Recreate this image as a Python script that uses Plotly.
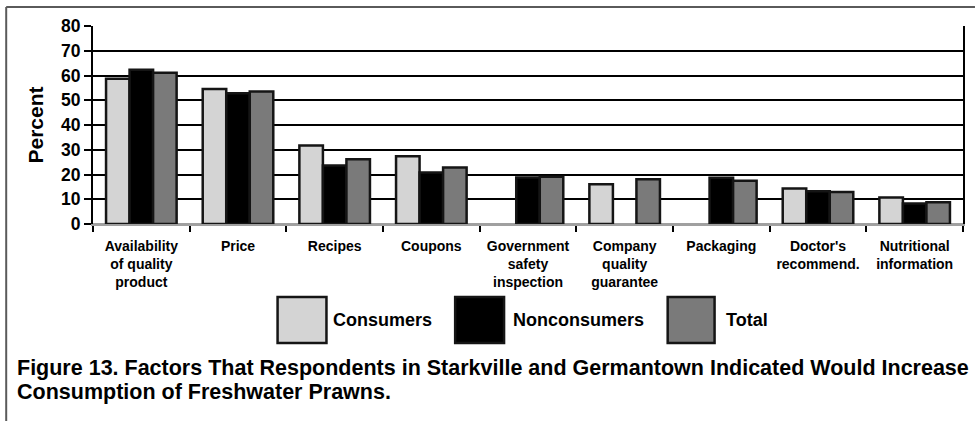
import plotly.graph_objects as go

# Factors and survey results (percent of respondents)
categories = [
    "Availability<br>of quality<br>product",
    "Price",
    "Recipes",
    "Coupons",
    "Government<br>safety<br>inspection",
    "Company<br>quality<br>guarantee",
    "Packaging",
    "Doctor's<br>recommend.",
    "Nutritional<br>information",
]
consumers = [58.7, 54.5, 31.7, 27.4, None, 16.1, None, 14.3, 10.7]
nonconsumers = [62.3, 52.8, 23.6, 20.8, 18.8, None, 18.7, 13.2, 8.3]
total = [61.1, 53.5, 26.2, 22.8, 19.1, 18.1, 17.5, 12.9, 8.8]

series_names = ["Consumers", "Nonconsumers", "Total"]
series_values = [consumers, nonconsumers, total]
series_colors = ["#d4d4d4", "#000000", "#7a7a7a"]

y_ticks = [0, 10, 20, 30, 40, 50, 60, 70, 80]

caption_lines = [
    "Figure 13. Factors That Respondents in Starkville and Germantown Indicated Would Increase",
    "Consumption of Freshwater Prawns.",
]

W, H = 977, 421
ML, MR, MT, MB = 93, 12, 26, 197
PW, PH = W - ML - MR, H - MT - MB

FONT = "Liberation Sans, Arial, Helvetica, sans-serif"


def px_x(px):
    return (px - ML) / PW


def px_y(py):
    return (H - MB - py) / PH


fig = go.Figure()
for name, vals, col in zip(series_names, series_values, series_colors):
    fig.add_trace(go.Bar(
        name=name, x=categories, y=vals,
        marker=dict(color=col, line=dict(color="#151515", width=2.5)),
        showlegend=False,
    ))

shapes = []
annotations = []

# outer frame (left and top edges)
shapes.append(dict(type="line", xref="paper", yref="paper",
                   x0=px_x(6), x1=px_x(977), y0=px_y(7), y1=px_y(7),
                   line=dict(color="#5a5a5a", width=2)))
shapes.append(dict(type="line", xref="paper", yref="paper",
                   x0=px_x(6), x1=px_x(6), y0=px_y(7), y1=px_y(421),
                   line=dict(color="#5a5a5a", width=2)))

# large legend swatches with labels
legend_boxes = [(278, 327, 332), (456, 505, 512), (669, 716, 725)]
for (x0, x1, tx), name, col in zip(legend_boxes, series_names, series_colors):
    shapes.append(dict(type="rect", xref="paper", yref="paper",
                       x0=px_x(x0), x1=px_x(x1), y0=px_y(297), y1=px_y(343),
                       fillcolor=col, line=dict(color="#151515", width=2.5)))
    annotations.append(dict(xref="paper", yref="paper", x=px_x(tx), y=px_y(320),
                            xanchor="left", yanchor="middle", showarrow=False,
                            text=name,
                            font=dict(family=FONT, size=18, color="black", weight="bold")))

# caption
for i, line in enumerate(caption_lines):
    annotations.append(dict(xref="paper", yref="paper", x=px_x(15), y=px_y(368 + 24 * i),
                            xanchor="left", yanchor="middle", showarrow=False,
                            text=line,
                            font=dict(family=FONT, size=21.5, color="black", weight="bold")))

fig.update_layout(
    width=W, height=H, autosize=False,
    margin=dict(l=ML, r=MR, t=MT, b=MB),
    paper_bgcolor="white", plot_bgcolor="white",
    barmode="group", bargap=0.27, bargroupgap=0.0,
    shapes=shapes, annotations=annotations,
    showlegend=False,
)

fig.update_yaxes(
    range=[0, 80], tickvals=y_ticks, ticktext=[str(v) for v in y_ticks],
    showgrid=True, gridcolor="black", gridwidth=2,
    showline=True, linecolor="black", linewidth=2, mirror=True,
    zeroline=True, zerolinecolor="#a0a0a0", zerolinewidth=2,
    ticks="outside", ticklen=7, tickwidth=2, tickcolor="black",
    tickfont=dict(family=FONT, size=17.5, color="black", weight="bold"),
    title=dict(text="Percent", standoff=12,
               font=dict(family=FONT, size=21, color="black", weight="bold")),
    fixedrange=True,
)
fig.update_xaxes(
    type="category", tickson="boundaries",
    showline=True, linecolor="#a0a0a0", linewidth=2,
    ticks="outside", ticklen=6, tickwidth=2, tickcolor="black",
    tickfont=dict(family=FONT, size=14, color="black", weight="bold"),
    ticklabelstandoff=8,
    tickangle=0, showgrid=False, fixedrange=True,
)

fig.write_html("out.html")
